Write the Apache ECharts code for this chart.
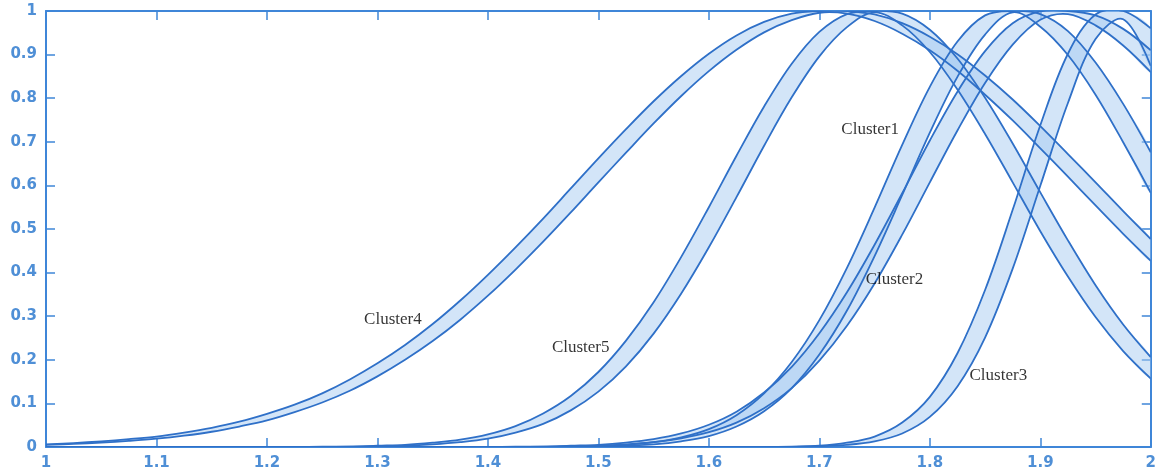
<!DOCTYPE html>
<html><head><meta charset="utf-8">
<script src="https://cdn.jsdelivr.net/npm/echarts@6/dist/echarts.min.js"></script>
<style>html,body{margin:0;padding:0;background:#fff}#c{width:1159px;height:474px}</style>
</head><body><div id="c"></div>
<script>
// x sample positions (shared by all curves)
const xGrid = [1.000,1.025,1.050,1.075,1.100,1.125,1.150,1.175,1.200,1.225,1.250,1.275,1.300,1.325,1.350,1.375,1.400,1.425,1.450,1.475,1.500,1.525,1.550,1.575,1.600,1.625,1.650,1.675,1.700,1.725,1.750,1.775,1.800,1.825,1.850,1.875,1.900,1.925,1.950,1.975,2.000];

// Upper / lower membership curves
const cluster4Upper = [0.006,0.009,0.013,0.018,0.024,0.033,0.044,0.058,0.076,0.097,0.123,0.155,0.192,0.234,0.282,0.336,0.395,0.458,0.524,0.593,0.662,0.729,0.793,0.851,0.902,0.944,0.975,0.994,1,1,0.992,0.972,0.941,0.901,0.852,0.797,0.736,0.672,0.607,0.541,0.477];
const cluster4Lower = [0.005,0.007,0.010,0.014,0.019,0.026,0.035,0.047,0.061,0.080,0.102,0.129,0.162,0.200,0.243,0.292,0.347,0.407,0.471,0.538,0.607,0.675,0.742,0.805,0.862,0.911,0.951,0.979,0.996,0.994,0.977,0.948,0.910,0.863,0.808,0.749,0.685,0.620,0.554,0.489,0.427];

const cluster5Upper = [0,0,0,0,0,0,0,0,0,0,0.001,0.001,0.003,0.005,0.010,0.017,0.029,0.048,0.077,0.117,0.172,0.244,0.332,0.436,0.550,0.668,0.781,0.879,0.952,0.993,1,0.994,0.957,0.891,0.801,0.696,0.584,0.474,0.371,0.281,0.206];
const cluster5Lower = [0,0,0,0,0,0,0,0,0,0,0,0.001,0.002,0.003,0.006,0.011,0.019,0.033,0.053,0.084,0.127,0.185,0.260,0.352,0.458,0.573,0.691,0.802,0.896,0.963,0.997,0.967,0.906,0.820,0.718,0.607,0.495,0.391,0.298,0.220,0.157];

const cluster1Upper = [0,0,0,0,0,0,0,0,0,0,0,0,0,0,0,0,0,0,0,0.001,0.002,0.005,0.011,0.022,0.041,0.073,0.123,0.195,0.291,0.411,0.549,0.693,0.826,0.930,0.990,1,0.993,0.954,0.882,0.787,0.676];
const cluster1Lower = [0,0,0,0,0,0,0,0,0,0,0,0,0,0,0,0,0,0,0,0.001,0.001,0.003,0.006,0.013,0.025,0.047,0.082,0.135,0.212,0.313,0.438,0.578,0.721,0.849,0.946,0.997,0.964,0.899,0.808,0.699,0.583];

const cluster2Upper = [0,0,0,0,0,0,0,0,0,0,0,0,0,0,0,0,0,0.001,0.001,0.003,0.005,0.010,0.018,0.031,0.051,0.081,0.125,0.184,0.261,0.355,0.464,0.582,0.703,0.815,0.908,0.972,0.999,1,0.990,0.959,0.910];
const cluster2Lower = [0,0,0,0,0,0,0,0,0,0,0,0,0,0,0,0,0,0,0.001,0.002,0.003,0.006,0.011,0.020,0.034,0.056,0.089,0.135,0.198,0.278,0.375,0.487,0.607,0.726,0.835,0.923,0.980,0.993,0.967,0.921,0.860];

const cluster3Upper = [0,0,0,0,0,0,0,0,0,0,0,0,0,0,0,0,0,0,0,0,0,0,0,0,0,0,0,0.001,0.003,0.010,0.024,0.056,0.115,0.215,0.360,0.544,0.738,0.902,0.992,1,0.960];
const cluster3Lower = [0,0,0,0,0,0,0,0,0,0,0,0,0,0,0,0,0,0,0,0,0,0,0,0,0,0,0,0,0.002,0.005,0.013,0.031,0.069,0.139,0.251,0.409,0.599,0.789,0.936,0.981,0.874];

// Cluster name labels
const labelNames = ['Cluster1','Cluster2','Cluster3','Cluster4','Cluster5'];
const labelX = [1.746, 1.768, 1.862, 1.314, 1.484];
const labelY = [0.728, 0.383, 0.163, 0.292, 0.227];

// Tick settings
const xMin = 1, xMax = 2, xStep = 0.1;
const yMin = 0, yMax = 1, yStep = 0.1;

const bands = [
  [cluster4Upper, cluster4Lower],
  [cluster5Upper, cluster5Lower],
  [cluster1Upper, cluster1Lower],
  [cluster2Upper, cluster2Lower],
  [cluster3Upper, cluster3Lower]
];

const AX = '#3f86d8', LBL = '#4f8fd6', LINE = '#2f70c8', FILL = 'rgba(168,204,241,0.5)';
const SM = 0.35;

function clipOf(params) {
  const cs = params.coordSys;
  return {type: 'rect', shape: {x: cs.x, y: cs.y, width: cs.width, height: cs.height}};
}
function pts(api, arr) { return xGrid.map((x, i) => api.coord([x, arr[i]])); }

const fillSeries = {
  type: 'custom', coordinateSystem: 'cartesian2d', z: 2, silent: true,
  data: bands.map(() => [xMin, yMin]),
  renderItem: function (params, api) {
    const b = bands[params.dataIndex];
    const up = pts(api, b[0]), lo = pts(api, b[1]);
    return {
      type: 'group', clipPath: clipOf(params),
      children: [{type: 'polygon', shape: {points: up.concat(lo.slice().reverse()), smooth: SM}, style: {fill: FILL, stroke: null}}]
    };
  }
};
const lineSeries = {
  type: 'custom', coordinateSystem: 'cartesian2d', z: 3, silent: true,
  data: bands.map(() => [xMin, yMin]),
  renderItem: function (params, api) {
    const b = bands[params.dataIndex];
    const up = pts(api, b[0]), lo = pts(api, b[1]);
    return {
      type: 'group', clipPath: clipOf(params),
      children: [
        {type: 'polyline', shape: {points: up, smooth: SM}, style: {stroke: LINE, lineWidth: 1.8, fill: null}},
        {type: 'polyline', shape: {points: lo, smooth: SM}, style: {stroke: LINE, lineWidth: 1.8, fill: null}}
      ]
    };
  }
};
const labelSeries = {
  type: 'scatter', z: 5, symbolSize: 0, silent: true,
  data: labelNames.map((n, i) => [labelX[i], labelY[i], n]),
  label: {show: true, position: 'inside', formatter: p => p.data[2], color: '#000', fontFamily: 'Liberation Serif', fontSize: 17}
};

function xAx(pos, showLabel) {
  return {
    type: 'value', min: xMin, max: xMax, interval: xStep, position: pos,
    axisLine: {show: true, onZero: false, lineStyle: {color: AX, width: 2}},
    axisTick: {show: true, inside: true, length: 9, lineStyle: {color: AX, width: 1.5}},
    axisLabel: {show: showLabel, color: LBL, fontSize: 15, fontWeight: 'bold', fontFamily: 'DejaVu Sans', margin: 9},
    splitLine: {show: false}
  };
}
function yAx(pos, showLabel) {
  return {
    type: 'value', min: yMin, max: yMax, interval: yStep, position: pos,
    axisLine: {show: true, onZero: false, lineStyle: {color: AX, width: 2}},
    axisTick: {show: true, inside: true, length: 9, lineStyle: {color: AX, width: 1.5}},
    axisLabel: {show: showLabel, color: LBL, fontSize: 15, fontWeight: 'bold', fontFamily: 'DejaVu Sans', margin: 9},
    splitLine: {show: false}
  };
}

const chart = echarts.init(document.getElementById('c'), null, {renderer: 'canvas'});
chart.setOption({
  animation: false,
  backgroundColor: '#fff',
  grid: {left: 46, right: 4, top: 11, bottom: 27, containLabel: false},
  xAxis: [xAx('bottom', true), xAx('top', false)],
  yAxis: [yAx('left', true), yAx('right', false)],
  series: [fillSeries, lineSeries, labelSeries]
});
</script></body></html>
